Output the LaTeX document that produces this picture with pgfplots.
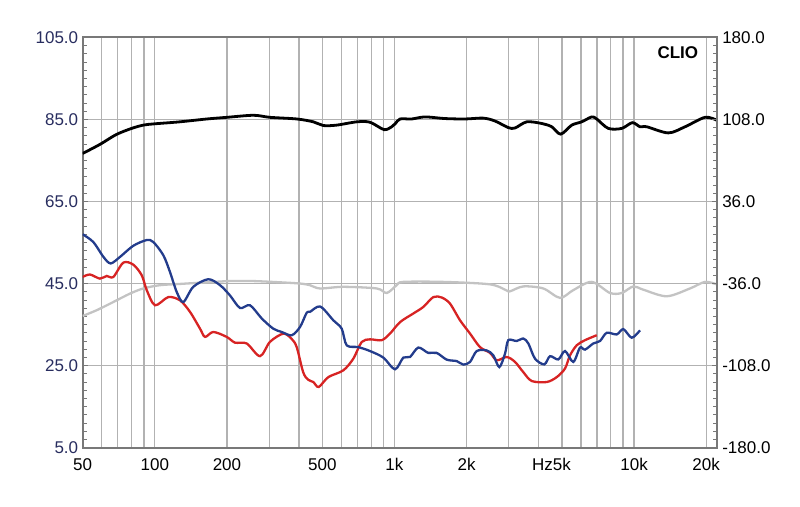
\documentclass[border=0pt]{standalone}
\usepackage{pgfplots}
\pgfplotsset{compat=1.18}
\usepackage{fontspec}
\setmainfont{Liberation Sans}
\definecolor{gridgray}{RGB}{178,178,178}
\definecolor{framegray}{RGB}{120,120,120}
\definecolor{navy}{RGB}{40,45,95}
\definecolor{cblue}{RGB}{35,60,140}
\definecolor{cred}{RGB}{215,35,35}
\definecolor{cgray}{RGB}{195,195,195}

\pgfplotstableread{
f db
50 76.7
59 78.9
69 81.3
80 82.8
89.5 83.6
99 83.9
127 84.4
165 85.1
200 85.5
258 86.0
302 85.5
391 85.1
459 84.4
505 83.5
574 83.6
696 84.4
791 84.3
905 82.5
974 83.2
1010 84.0
1055 85.1
1180 85.1
1342 85.6
1626 85.2
1970 85.1
2350 85.3
2629 84.6
2987 83.0
3186 82.9
3565 84.4
4118 84.0
4533 83.2
4943 81.4
5495 83.6
6045 84.4
6659 85.6
6984 85.1
7809 82.8
8885 82.8
9835 84.2
10592 83.2
11297 83.2
13902 81.7
16327 83.2
19782 85.5
22130 84.8
}\blackdata

\pgfplotstableread{
f db
50 37.1
57.2 38.5
67.1 40.5
78.8 42.55
89.5 43.8
105 44.6
127 44.9
165 45.3
206 45.6
258 45.6
333 45.3
404 45.0
444 44.6
489 43.8
612 44.2
844 43.8
929 42.7
1022 44.6
1089 45.4
1600 45.4
2506 44.8
2942 43.3
3037 43.1
3451 44.3
4181 43.8
4910 41.5
5578 43.4
6658 45.4
7937 42.7
8885 42.7
9931 44.3
10933 43.5
13688 41.9
17122 43.8
19782 45.4
22130 44.8
}\graydata

\pgfplotstableread{
f db
50 57.0
55.4 55.1
61 51.5
65.4 49.9
71.6 51.5
81.3 54.2
92.5 55.6
98.6 55.1
108.5 51.9
115.7 47.8
123.4 42.95
131.5 40.5
144.7 44.2
167.2 46.05
187.1 44.6
205.9 42.1
226.7 39.05
249.6 39.7
279.3 36.5
312.2 34.0
338.6 33.2
372.6 32.4
403.5 34.4
430.4 37.9
444.2 38.1
490 39.4
555.8 36.05
602.4 34.0
632.1 29.95
706.7 29.5
790.9 28.55
898.8 26.95
1005.5 24.1
1089 26.95
1161 27.1
1258 29.4
1384 28.1
1501 28.1
1653 26.45
1819 26.1
1939 25.25
2068 25.9
2205 28.55
2428 28.7
2586 27.5
2740 24.65
2894 27.9
2987 31.2
3238 31.0
3451 31.6
3621 30.4
3861 26.7
4222 25.3
4460 27.3
4830 26.5
5151 28.55
5578 25.9
5950 29.4
6243 28.9
6761 30.4
7210 31.0
7690 33.0
8466 32.6
9022 33.9
9779 31.8
10591 33.6
}\bluedata

\pgfplotstableread{
f db
50 46.6
53.6 47.2
59 46.2
63 46.85
67.1 46.6
73.9 50.1
81.3 49.6
88.2 47.0
92.5 43.4
100.2 39.7
113.8 41.7
127.4 40.9
140.2 38.1
154.4 34.0
162 32.0
175.4 33.2
199.5 32.0
216.1 30.6
241.8 30.4
274.7 27.3
302.5 30.8
343.8 32.8
372.6 31.5
391 29.5
416 23.4
435.6 21.6
458.6 21.0
483 19.8
529.7 22.2
611.8 23.85
673.6 26.7
730 30.75
790.9 31.4
885 31.2
958 32.8
1055 35.6
1199 37.7
1320 39.3
1453 41.7
1575 41.6
1706 40.1
1878 36.05
2068 32.8
2276 29.5
2506 28.1
2672 26.3
2942 27.1
3186 25.9
3451 23.4
3741 21.25
4320 21.0
4757 22.2
5151 24.3
5404 27.5
5764 29.95
6243 31.2
6985 32.4
}\reddata

\begin{document}
\begin{tikzpicture}[font=\fontsize{17}{20}\selectfont]
\useasboundingbox (-82.7pt,-58.3pt) rectangle (717.3pt,447.7pt);
\begin{axis}[
  scale only axis, width=634pt, height=410.4pt,
  xmode=log, xmin=50, xmax=22130, ymin=5, ymax=105,
  axis line style={framegray, line width=1.8pt},
  xtick={50,100,200,500,1000,2000,5000,10000,20000},
  xticklabels={50,100,200,500,1k,2k,\llap{Hz}5k,10k,20k},
  minor xtick={60,70,80,90,300,400,600,700,800,900,3000,4000,6000,7000,8000,9000},
  xmajorgrids, xminorgrids, ymajorgrids,
  major grid style={gridgray, line width=1.3pt},
  minor grid style={gridgray, line width=1.3pt},
  ytick={5,25,45,65,85,105},
  yticklabels={5.0,25.0,45.0,65.0,85.0,105.0},
  minor ytick={7,9,...,103},
  ytick pos=left, xtick pos=bottom,
  x tick style={draw=none},
  y tick style={framegray, line width=0.8pt},
  tick align=inside,
  major tick length=5pt, minor tick length=4pt,
  yticklabel style={navy, xshift=-1pt},
  xticklabel style={black, yshift=-7pt},
]
\addplot[cgray, line width=2.3pt, smooth] table[x=f,y=db] {\graydata};
\addplot[cred, line width=2.3pt, smooth] table[x=f,y=db] {\reddata};
\addplot[cblue, line width=2.3pt, smooth] table[x=f,y=db] {\bluedata};
\addplot[black, line width=2.8pt, smooth] table[x=f,y=db] {\blackdata};
\node[navy, anchor=east] at ([xshift=-2pt]rel axis cs:0,0.9) {dBSPL};
\node[font=\fontsize{17}{20}\selectfont\bfseries, anchor=north east] at ([xshift=-15pt,yshift=-6pt]rel axis cs:1,1) {CLIO};
\end{axis}
\begin{axis}[
  scale only axis, width=634pt, height=410.4pt,
  xmode=log, xmin=50, xmax=22130, ymin=-180, ymax=180,
  hide x axis, axis y line*=right,
  axis line style={framegray, line width=1.8pt},
  ytick={-180,-108,-36,36,108,180},
  yticklabels={-180.0,-108.0,-36.0,36.0,108.0,180.0},
  minor ytick={-172.8,-165.6,...,172.8},
  y tick style={framegray, line width=0.8pt},
  tick align=inside,
  major tick length=5pt, minor tick length=4pt,
  yticklabel style={black, xshift=2pt},
]
\node[anchor=west] at ([xshift=6pt]rel axis cs:1,0.9) {Deg};
\end{axis}
\end{tikzpicture}
\end{document}
